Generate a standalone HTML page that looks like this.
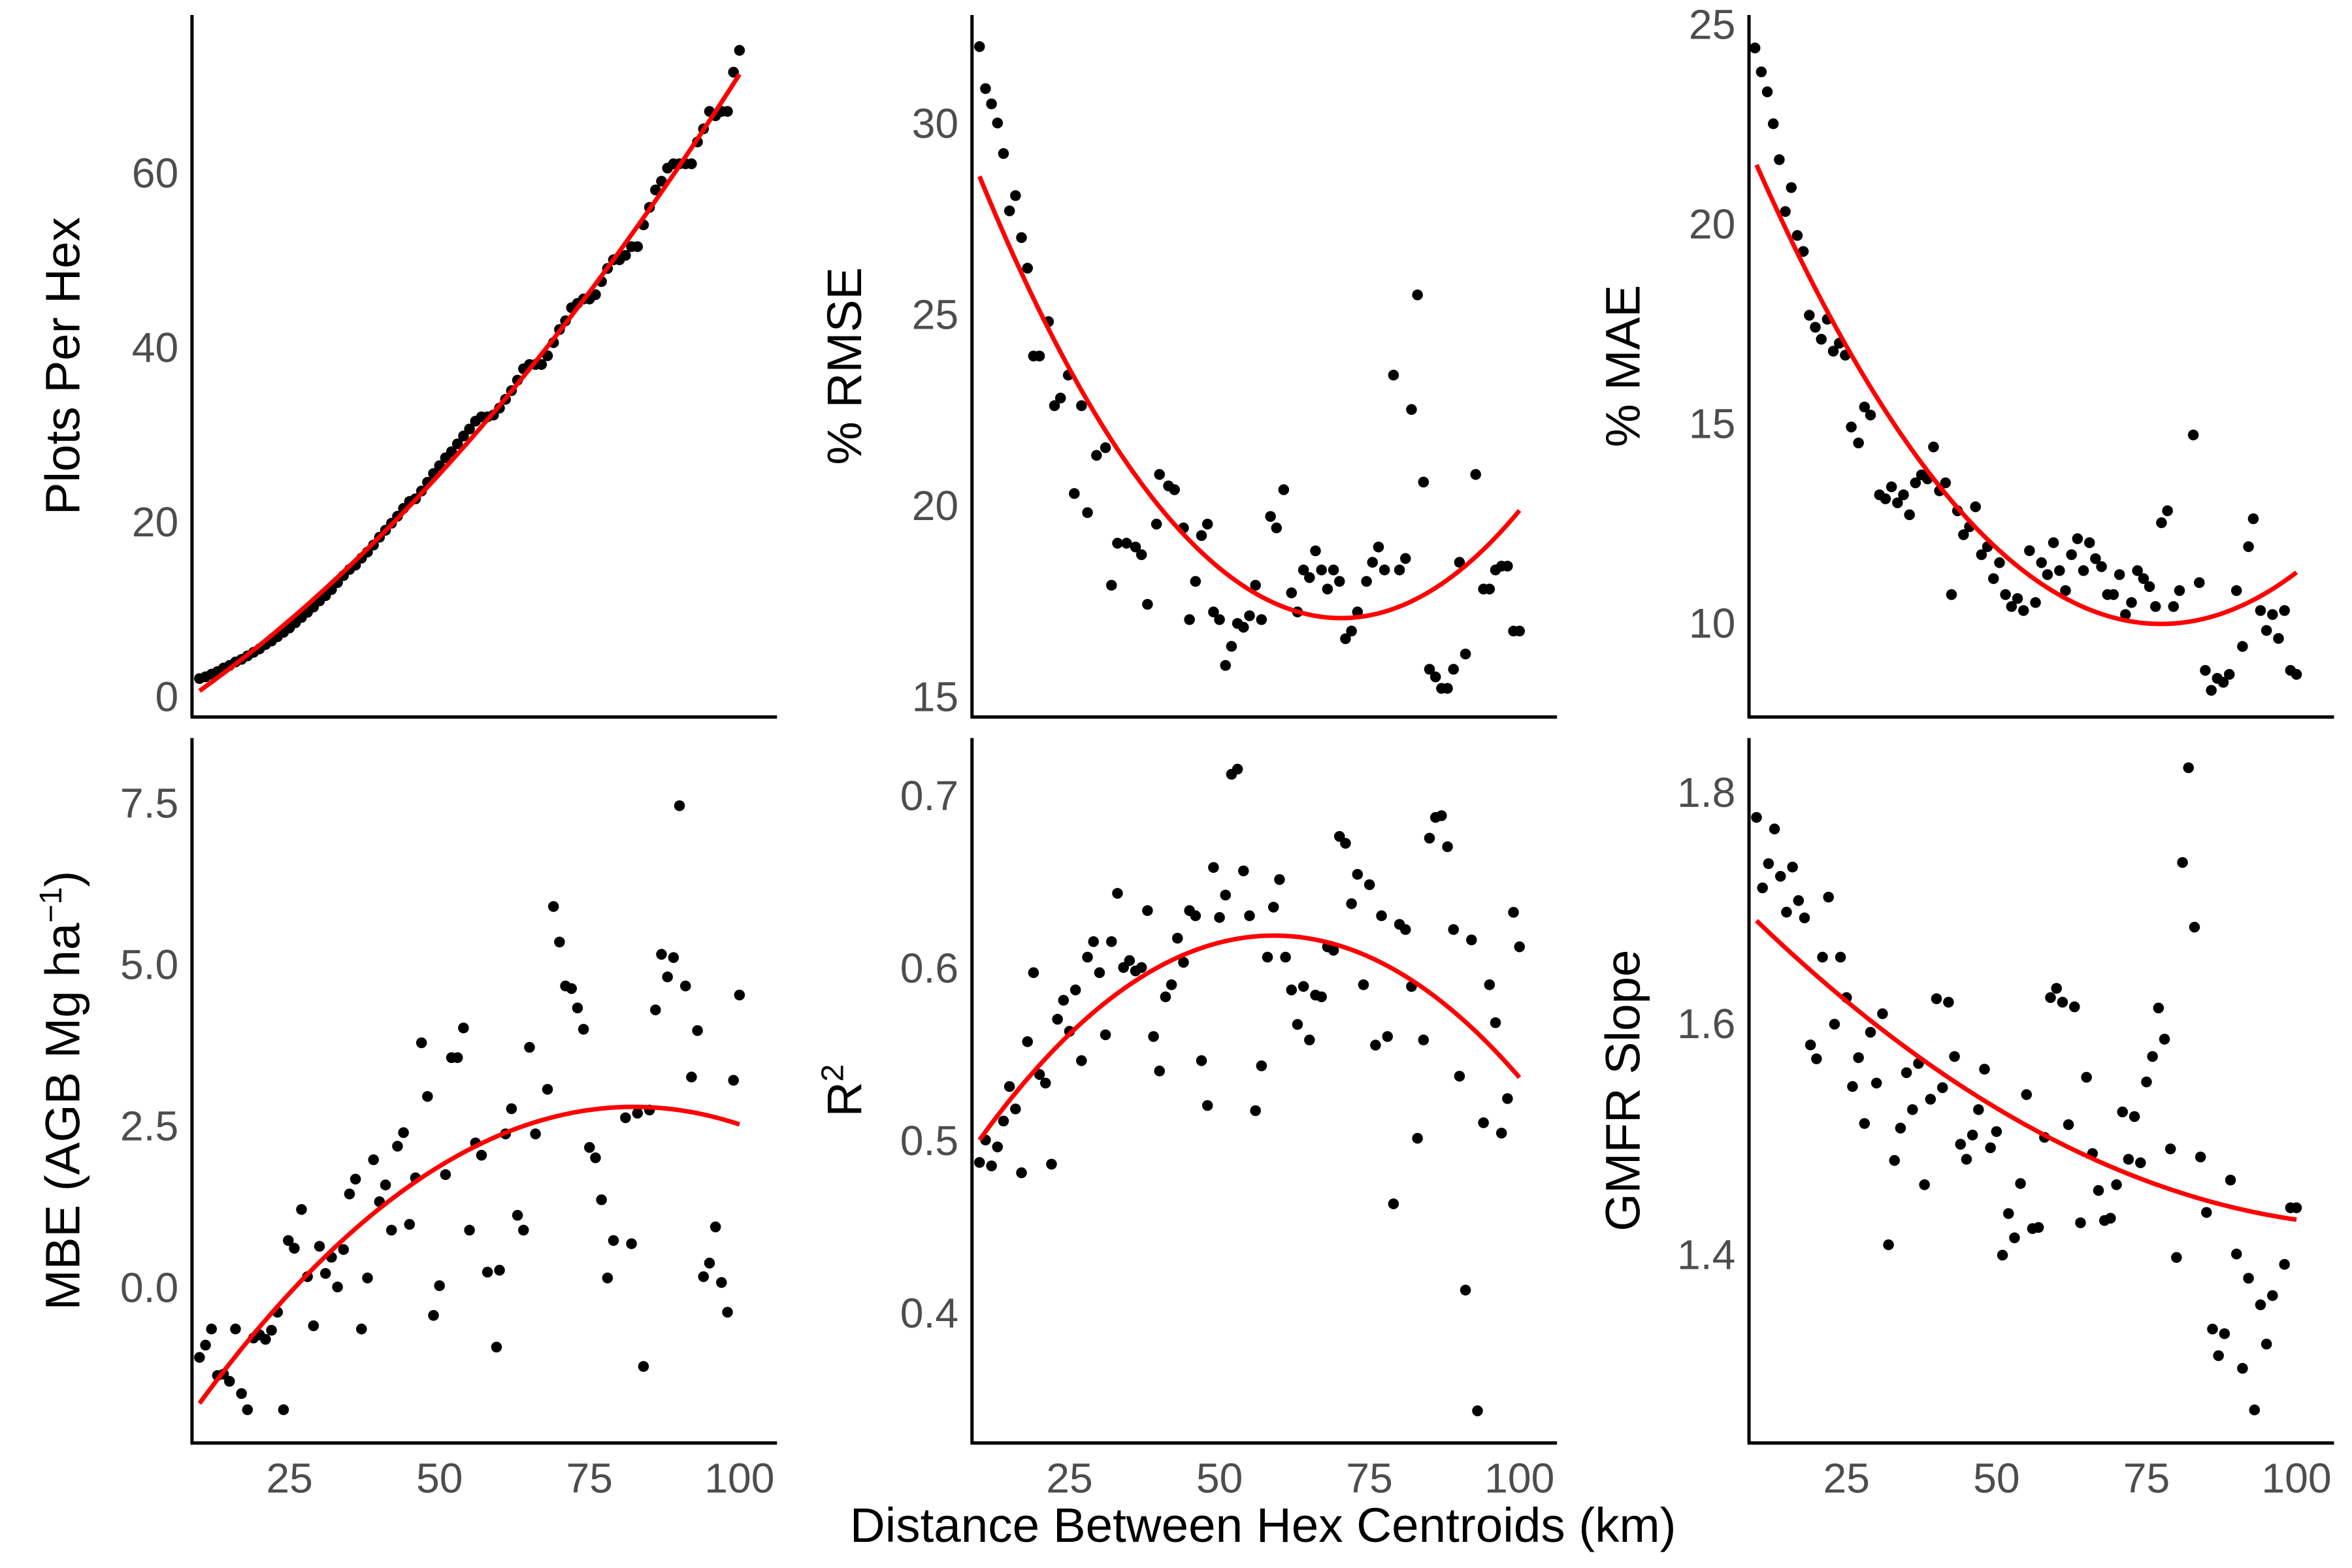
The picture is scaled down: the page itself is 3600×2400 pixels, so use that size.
<!DOCTYPE html>
<html><head><meta charset="utf-8">
<style>
html,body{margin:0;padding:0;background:#fff;}
svg{display:block;}
text{font-family:"Liberation Sans",Arial,sans-serif;}
</style></head>
<body>
<svg id="fig" width="3600" height="2400" viewBox="0 0 1568 1045.333" xmlns="http://www.w3.org/2000/svg">
<rect width="1568" height="1045.333" fill="#fff"/>
<text x="842" y="1028" font-size="32.5" text-anchor="middle" fill="#000">Distance Between Hex Centroids (km)</text>
</svg>
<script>
const xTicks=[25,50,75,100];
const p1x=[10,11,12,13,14,15,16,17,18,19,20,21,22,23,24,25,26,27,28,29,30,31,32,33,34,35,36,37,38,39,40,41,42,43,44,45,46,47,48,49,50,51,52,53,54,55,56,57,58,59,60,61,62,63,64,65,66,67,68,69,70,71,72,73,74,75,76,77,78,79,80,81,82,83,84,85,86,87,88,89,90,91,92,93,94,95,96,97,98,99,100];
const p1y=[2.0,2.2,2.5,2.8,3.2,3.5,3.9,4.2,4.6,5.0,5.4,5.9,6.3,6.8,7.3,7.8,8.4,9.0,9.6,10.2,10.9,11.5,12.2,13,13.8,14.5,15,15.8,16.5,17.3,18.2,19,19.8,20.6,21.5,22.3,22.6,23.5,24.5,25.5,26.4,27.3,28,28.9,29.8,30.6,31.5,32,32,32.2,33,34,35,36.2,37.5,38,38,38,39,40.5,42,43,44.5,45,45.5,45.5,46,47.5,49,50,50,50.5,51.5,51.5,54,56,58,59,60.5,61,61,61,61,63.5,65,67,66.5,67,67,71.5,74];
const p2x=[10,11,12,13,14,15,16,17,18,19,20,21.5,22.5,23.5,24.8,25.8,27,28,29.5,31,32,33,34.5,36,37,38,39.5,40,41.5,42.5,44,45,46,47,48,49,50,51,52,53,54,55,56,57,58.5,59.5,60.7,62,63,64,65,66,67,68,69,70,71,72,73,74.5,75.5,76.5,77.5,79,80,81,82,83,84,85,86,87,88,89,90,91,92.7,94,95,96,97,98,99,100];
const p2y=[32.0,30.9,30.5,30.0,29.2,27.7,28.1,27.0,26.2,23.9,23.9,24.8,22.6,22.8,23.4,20.3,22.6,19.8,21.3,21.5,17.9,19.0,19.0,18.9,18.7,17.4,19.5,20.8,20.5,20.4,19.4,17.0,18.0,19.2,19.5,17.2,17.0,15.8,16.3,16.9,16.8,17.1,17.9,17.0,19.7,19.4,20.4,17.7,17.2,18.3,18.1,18.8,18.3,17.8,18.3,18.0,16.5,16.7,17.2,18.0,18.5,18.9,18.3,23.4,18.3,18.6,22.5,25.5,20.6,15.7,15.5,15.2,15.2,15.7,18.5,16.1,20.8,17.8,17.8,18.3,18.4,18.4,16.7,16.7];
const p3x=[9.75,10.8,11.8,12.8,13.8,14.8,15.8,16.8,17.8,18.8,19.8,20.8,21.8,22.8,23.8,24.8,25.8,27,28,29,30.5,31.5,32.5,33.5,34.5,35.5,36.5,37.5,38.5,39.5,40.5,41.5,42.5,43.5,44.5,45.5,46.5,47.5,48.5,49.5,50.5,51.5,52.5,53.5,54.5,55.5,56.5,57.5,58.5,59.5,60.5,61.5,62.5,63.5,64.5,65.5,66.5,67.5,68.5,69.5,70.5,71.5,72.5,73.5,74.5,75.5,76.5,77.5,78.5,79.5,80.5,82.8,83.8,84.8,85.8,86.8,87.8,88.8,90,91,92,92.8,94,95,96,97,98,99,100];
const p3y=[24.4,23.8,23.3,22.5,21.6,20.3,20.9,19.7,19.3,17.7,17.4,17.1,17.6,16.8,17.0,16.7,14.9,14.5,15.4,15.2,13.2,13.1,13.4,13.0,13.2,12.7,13.5,13.7,13.6,14.4,13.3,13.5,10.7,12.8,12.2,12.4,12.9,11.7,11.9,11.1,11.5,10.7,10.4,10.6,10.3,11.8,10.5,11.5,11.2,12.0,11.3,10.8,11.7,12.1,11.3,12.0,11.6,11.4,10.7,10.7,11.2,10.2,10.5,11.3,11.1,10.9,10.4,12.5,12.8,10.4,10.8,14.7,11.0,8.8,8.3,8.6,8.5,8.7,10.8,9.4,11.9,12.6,10.3,9.8,10.2,9.6,10.3,8.8,8.7];
const p4x=[10,11,12,13,14,15,16,17,18,19,20,21,22,23,24,24.8,25.8,27,28,29,30,31,32,33,34,35,36,37,38,39,40,41,42,43,44,45,46,47,48,49,50,51,52,53,54,55,56,57,58,59.5,60,61,62,63,64,65,66,68,69,70,71,72,73,74,75,76,77,78,79,81,82,83,84,85,86,87,88,89,90,91,92,93,94,95,96,97,98,99,100];
const p4y=[-1.09,-0.9,-0.65,-1.37,-1.35,-1.46,-0.65,-1.65,-1.9,-0.79,-0.74,-0.81,-0.67,-0.39,-1.9,0.72,0.6,1.2,0.16,-0.6,0.63,0.21,0.46,0.0,0.58,1.44,1.67,-0.65,0.14,1.97,1.32,1.58,0.88,2.18,2.39,0.97,1.69,3.78,2.95,-0.44,0.02,1.74,3.55,3.55,4.01,0.88,2.23,2.04,0.23,-0.93,0.26,2.37,2.76,1.11,0.88,3.71,2.37,3.06,5.89,5.34,4.66,4.62,4.32,3.99,2.16,2.0,1.35,0.14,0.72,2.62,0.67,2.69,-1.23,2.74,4.29,5.15,4.8,5.1,7.45,4.66,3.25,3.97,0.16,0.37,0.93,0.07,-0.39,3.2,4.52];
const p5x=[10,11,12,13,14,15,16,17,18,19,20,21,22,23,24,25,26,27,28,29,30,31,32,33,34,35,36,37,38,39,40,41,42,43,44,45,46,47,48,49,50,51,52,53,54,55,56,57,58,59,60,61,62,63,64,65,66,67,68,69,70,71,72,73,74,75,76,77,78,79,80,81,82,83,84,85,86,87,88,89,90,91,92,93,94,95,96,97,98,99,100];
const p5y=[0.487,0.5,0.485,0.496,0.511,0.531,0.518,0.481,0.557,0.597,0.538,0.533,0.486,0.57,0.581,0.563,0.587,0.546,0.606,0.615,0.597,0.561,0.615,0.643,0.6,0.604,0.598,0.6,0.633,0.56,0.54,0.583,0.59,0.617,0.603,0.633,0.63,0.546,0.52,0.658,0.629,0.642,0.712,0.715,0.656,0.63,0.517,0.543,0.606,0.635,0.651,0.606,0.587,0.567,0.589,0.558,0.584,0.583,0.612,0.61,0.676,0.672,0.637,0.654,0.59,0.648,0.555,0.63,0.56,0.463,0.625,0.622,0.589,0.501,0.558,0.675,0.687,0.688,0.67,0.622,0.537,0.413,0.616,0.343,0.51,0.59,0.568,0.504,0.524,0.632,0.612];
const p6x=[10,11,12,13,14,15,16,17,18,19,20,21,22,23,24,25,26,27,28,29,30,31,32,33,34,35,36,37,38,39,40,41,42,43,44,45,46,47,48,49,50,51,52,53,54,55,56,57,58,59,60,61,62,63,64,65,66,67,68,69,70,71,72,73,74,75,76,77,78,79,80,81,82,83,84,85,86,87,88,89,90,91,92,93,94,95,96,98,99,100];
const p6y=[1.778,1.717,1.738,1.768,1.727,1.696,1.735,1.706,1.691,1.581,1.569,1.657,1.709,1.599,1.657,1.622,1.545,1.57,1.513,1.592,1.548,1.608,1.408,1.481,1.509,1.557,1.525,1.565,1.46,1.534,1.621,1.544,1.618,1.571,1.495,1.482,1.503,1.525,1.56,1.492,1.506,1.399,1.435,1.414,1.461,1.538,1.422,1.423,1.501,1.622,1.63,1.618,1.512,1.614,1.427,1.553,1.487,1.455,1.429,1.431,1.46,1.523,1.482,1.519,1.479,1.549,1.571,1.613,1.586,1.491,1.397,1.739,1.821,1.683,1.484,1.436,1.335,1.312,1.331,1.464,1.4,1.301,1.379,1.265,1.356,1.322,1.364,1.391,1.44,1.44];
const p1ticks=["0","20","40","60"];
const p2ticks=["15","20","25","30"];
const p3ticks=["10","15","20","25"];
const p4ticks=["0.0","2.5","5.0","7.5"];
const p5ticks=["0.4","0.5","0.6","0.7"];
const p6ticks=["1.4","1.6","1.8"];

const NS="http://www.w3.org/2000/svg";
const svg=document.getElementById('fig');
function mk(tag,attrs,parent){const e=document.createElementNS(NS,tag);for(const k in attrs)e.setAttribute(k,attrs[k]);(parent||svg).appendChild(e);return e;}
function fit(xs,ys){let S=[0,0,0,0,0],T=[0,0,0];for(let i=0;i<xs.length;i++){const x=xs[i],y=ys[i];let p=1;for(let k=0;k<5;k++){S[k]+=p;if(k<3)T[k]+=p*y;p*=x;}}
 const A=[[S[0],S[1],S[2]],[S[1],S[2],S[3]],[S[2],S[3],S[4]]];
 const det=m=>m[0][0]*(m[1][1]*m[2][2]-m[1][2]*m[2][1])-m[0][1]*(m[1][0]*m[2][2]-m[1][2]*m[2][0])+m[0][2]*(m[1][0]*m[2][1]-m[1][1]*m[2][0]);
 const D=det(A);const c=[];for(let j=0;j<3;j++){const M=A.map((r,i)=>r.map((v,k)=>k===j?T[i]:v));c.push(det(M)/D);}return c;}

const panels=[
 {n:'plots-per-hex',x0:128,x1:518,top:10,bot:478,v0:0,p0:464,v1:60,p1:115,xs:p1x,ys:p1y,ticks:p1ticks,title:'Plots Per Hex',tx:42,xl:false},
 {n:'rmse',x0:648,x1:1038,top:10,bot:478,v0:15,p0:464,v1:30,p1:82,xs:p2x,ys:p2y,ticks:p2ticks,title:'% RMSE',tx:563,xl:false},
 {n:'mae',x0:1166,x1:1556,top:10,bot:478,v0:10,p0:415,v1:25,p1:16,xs:p3x,ys:p3y,ticks:p3ticks,title:'% MAE',tx:1082,xl:false},
 {n:'mbe',x0:128,x1:518,top:492,bot:962,v0:0,p0:858,v1:7.5,p1:535,xs:p4x,ys:p4y,ticks:p4ticks,title:'MBE',tx:42,xl:true},
 {n:'r-squared',x0:648,x1:1038,top:492,bot:962,v0:0.4,p0:875,v1:0.7,p1:530,xs:p5x,ys:p5y,ticks:p5ticks,title:'R2',tx:563,xl:true},
 {n:'gmfr-slope',x0:1166,x1:1556,top:492,bot:962,v0:1.4,p0:836,v1:1.8,p1:528,xs:p6x,ys:p6y,ticks:p6ticks,title:'GMFR Slope',tx:1082,xl:true}
];
panels.forEach(P=>{
 const g=mk('g',{});
 
 
 const sx=k=>P.x0+65+(k-25)*4;
 const sy=v=>P.p0+(v-P.v0)*(P.p1-P.p0)/(P.v1-P.v0);
 for(let i=0;i<P.xs.length;i++){
  const c=mk('circle',{cx:sx(P.xs[i]),cy:sy(P.ys[i]),r:3.6,fill:'#000'},g);
  
  
 }
 const cf=fit(P.xs,P.ys);let d='';
 for(let k=10;k<=100;k+=0.5){const v=cf[0]+cf[1]*k+cf[2]*k*k;d+=(k===10?'M':'L')+sx(k).toFixed(2)+','+sy(v).toFixed(2);}
 const ln=mk('path',{d:d,fill:'none',stroke:'#ff0000','stroke-width':3},g);
 
 
 const ya=mk('line',{x1:P.x0,y1:P.top,x2:P.x0,y2:P.bot,stroke:'#000','stroke-width':2.2},g);
 
 
 const xa=mk('line',{x1:P.x0-1,y1:P.bot,x2:P.x1,y2:P.bot,stroke:'#000','stroke-width':2.2},g);
 
 
 P.ticks.forEach(t=>{
  const tx=mk('text',{x:P.x0-9,y:sy(parseFloat(t))+10,'font-size':28,'text-anchor':'end',fill:'#4d4d4d'},g);
  tx.textContent=t;
  
  
 });
 if(P.xl){xTicks.forEach(t=>{
  const tx=mk('text',{x:sx(t),y:995,'font-size':28,'text-anchor':'middle',fill:'#4d4d4d'},g);
  tx.textContent=t;
  
  
 });}
 const cy=(P.top+P.bot)/2;
 const tt=mk('text',{x:0,y:0,'font-size':32.5,'text-anchor':'middle',fill:'#000',transform:'translate('+(P.tx+11)+','+cy+') rotate(-90)'},g);
 
 
 if(P.title==='MBE'){
  tt.innerHTML='MBE (AGB Mg ha<tspan dy="-12" font-size="21">−1</tspan><tspan dy="12">)</tspan>';
 }else if(P.title==='R2'){
  tt.innerHTML='R<tspan dy="-12" font-size="21">2</tspan>';
 }else tt.textContent=P.title;
});
</script>
</body></html>
